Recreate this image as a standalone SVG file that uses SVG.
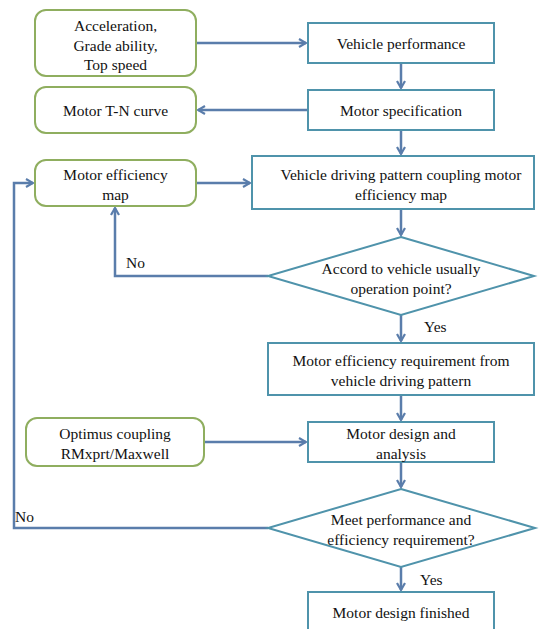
<svg xmlns="http://www.w3.org/2000/svg" width="544" height="629" viewBox="0 0 544 629">
<defs>
<marker id="ah" markerWidth="10" markerHeight="10" refX="8" refY="5" orient="auto" markerUnits="userSpaceOnUse">
<path d="M1,1 L8,5 L1,9" fill="none" stroke="#5a7dab" stroke-width="2.2"/>
</marker>
<style>
.g{fill:#fff;stroke:#8fae5f;stroke-width:2}
.b{fill:#fff;stroke:#4f93ab;stroke-width:2}
.c{fill:none;stroke:#5a7dab;stroke-width:2.5}
text{font-size:15.5px;fill:#111;text-anchor:middle;dominant-baseline:central}
.l{text-anchor:start}
</style>
</defs>
<rect width="544" height="629" fill="#fff"/>
<g font-family="Liberation Serif, serif">
<g id="connectors">
<path class="c" d="M196,43 H306" marker-end="url(#ah)"/>
<path class="c" d="M401,63 V88" marker-end="url(#ah)"/>
<path class="c" d="M308,110 H198" marker-end="url(#ah)"/>
<path class="c" d="M401,130 V154" marker-end="url(#ah)"/>
<path class="c" d="M196,183 H250" marker-end="url(#ah)"/>
<path class="c" d="M401,209 V235" marker-end="url(#ah)"/>
<path class="c" d="M268,276 H115 V208" marker-end="url(#ah)"/>
<path class="c" d="M401,315 V341" marker-end="url(#ah)"/>
<path class="c" d="M401,395 V420" marker-end="url(#ah)"/>
<path class="c" d="M204,442 H306" marker-end="url(#ah)"/>
<path class="c" d="M401,462 V487" marker-end="url(#ah)"/>
<path class="c" d="M268,528 H14 V183 H33" marker-end="url(#ah)"/>
<path class="c" d="M401,567 V590" marker-end="url(#ah)"/>
<text class="l" x="126" y="262">No</text>
<text class="l" x="424" y="326">Yes</text>
<text class="l" x="15" y="516">No</text>
<text class="l" x="420" y="579">Yes</text>
</g>
<g id="n1"><rect class="g" x="35" y="10" width="161" height="66" rx="11"/>
<text x="115.5" y="25">Acceleration,</text><text x="115.5" y="45">Grade ability,</text><text x="115.5" y="64">Top speed</text></g>
<g id="n2"><rect class="g" x="35" y="87" width="161" height="46" rx="11"/>
<text x="115.5" y="110">Motor T-N curve</text></g>
<g id="n3"><rect class="g" x="35" y="160" width="161" height="46" rx="11"/>
<text x="115.5" y="174">Motor efficiency</text><text x="115.5" y="194">map</text></g>
<g id="n4"><rect class="b" x="308" y="23" width="186" height="40"/>
<text x="401" y="43">Vehicle performance</text></g>
<g id="n5"><rect class="b" x="308" y="90" width="186" height="40"/>
<text x="401" y="110">Motor specification</text></g>
<g id="n6"><rect class="b" x="252" y="156" width="282" height="53"/>
<text x="401" y="174">Vehicle driving pattern coupling motor</text><text x="401" y="194">efficiency map</text></g>
<g id="n7"><polygon class="b" points="401,237 534,276 401,315 268,276"/>
<text x="401" y="268">Accord to vehicle usually</text><text x="401" y="288">operation point?</text></g>
<g id="n8"><rect class="b" x="268" y="343" width="266" height="52"/>
<text x="401" y="360">Motor efficiency requirement from</text><text x="401" y="380">vehicle driving pattern</text></g>
<g id="n9"><rect class="g" x="26" y="418" width="178" height="48" rx="11"/>
<text x="115" y="433">Optimus coupling</text><text x="115" y="453">RMxprt/Maxwell</text></g>
<g id="n10"><rect class="b" x="308" y="422" width="186" height="40"/>
<text x="401" y="433">Motor design and</text><text x="401" y="453">analysis</text></g>
<g id="n11"><polygon class="b" points="401,489 535,528 401,567 268,528"/>
<text x="401" y="519">Meet performance and</text><text x="401" y="539">efficiency requirement?</text></g>
<g id="n12"><rect class="b" x="308" y="592" width="186" height="45"/>
<text x="401" y="612">Motor design finished</text></g>
</g>
</svg>
